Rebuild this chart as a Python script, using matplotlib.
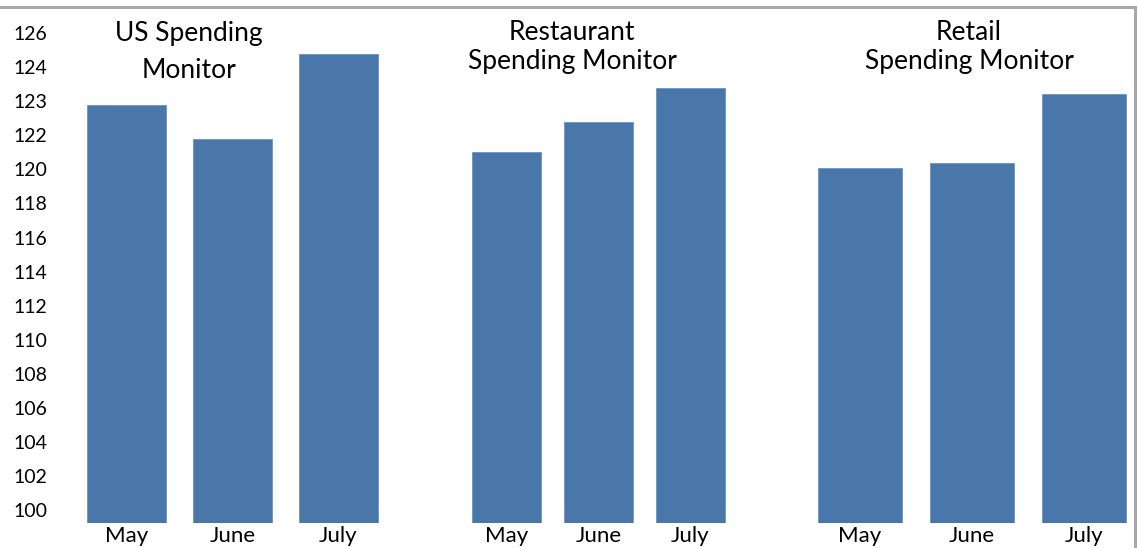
import numpy as np
import matplotlib
matplotlib.use("Agg")
import matplotlib.pyplot as plt
from matplotlib.lines import Line2D
from matplotlib.ticker import NullLocator

plt.rcParams['font.family'] = ['Lato', 'DejaVu Sans']

months = ['May', 'June', 'July']
us_spending = [122.9, 121.8, 124.8]
restaurant_spending = [121.0, 122.4, 123.4]
retail_spending = [120.1, 120.4, 123.2]
tick_values = [100, 102, 104, 106, 108, 110, 112, 114, 116, 118, 120, 122, 123, 124, 126]

# the axis is evenly spaced per tick label, not per unit, so map values onto tick index
scale_vals = np.array([98] + tick_values + [128], dtype=float)
scale_pos = np.arange(len(scale_vals), dtype=float) - 1


def fwd(v):
    return np.interp(v, scale_vals, scale_pos)


def inv(p):
    return np.interp(p, scale_pos, scale_vals)


bar_color = '#4a77aa'
W, H = 1139, 548
fig = plt.figure(figsize=(W / 100, H / 100), dpi=100)
fig.patch.set_facecolor('white')

ybot, ytop = 523, 10
y_lo, y_hi = 99.24, 127.36

panels = [
    (us_spending, 73.5, 391.5, ['US Spending', 'Monitor'], 0.363, [33, 70]),
    (restaurant_spending, 460.5, 736.5, ['Restaurant', 'Spending Monitor'], 0.404, [33, 62]),
    (retail_spending, 804, 1140, ['Retail', 'Spending Monitor'], 0.491, [33, 62]),
]

for i, (vals, x0, x1, title, tx, ty) in enumerate(panels):
    ax = fig.add_axes([x0 / W, (H - ybot) / H, (x1 - x0) / W, (ybot - ytop) / H])
    ax.set_yscale('function', functions=(fwd, inv))
    ax.set_ylim(y_lo, y_hi)
    ax.set_xlim(-0.5, 2.5)
    ax.bar(range(3), [v - y_lo for v in vals], bottom=y_lo, width=0.75,
           color=bar_color, edgecolor='#6a93c4', linewidth=0.6)
    ax.set_xticks(range(3))
    ax.set_xticklabels(months, fontsize=16)
    ax.tick_params(axis='x', length=0, pad=2)
    for s in ax.spines.values():
        s.set_visible(False)
    ax.patch.set_alpha(0)
    ax.yaxis.set_minor_locator(NullLocator())
    if i == 0:
        ax.set_yticks(tick_values)
        ax.set_yticklabels([str(t) for t in tick_values], fontsize=14)
        ax.tick_params(axis='y', length=0, pad=19)
    else:
        ax.set_yticks([])
    for line, yy in zip(title, ty):
        fig.text((x0 + tx * (x1 - x0)) / W, 1 - yy / H, line, ha='center', va='center',
                 fontsize=19, color='black')

# grey frame along the top and right edge
frame_c = '#a8a8a8'
fig.add_artist(Line2D([0, 1135 / W], [1 - 7 / H, 1 - 7 / H], color=frame_c, lw=2.2,
                      transform=fig.transFigure))
fig.add_artist(Line2D([1135 / W, 1135 / W], [0, 1 - 7 / H], color=frame_c, lw=2.2,
                      transform=fig.transFigure))

fig.savefig('out.png', dpi=100, facecolor='white')
